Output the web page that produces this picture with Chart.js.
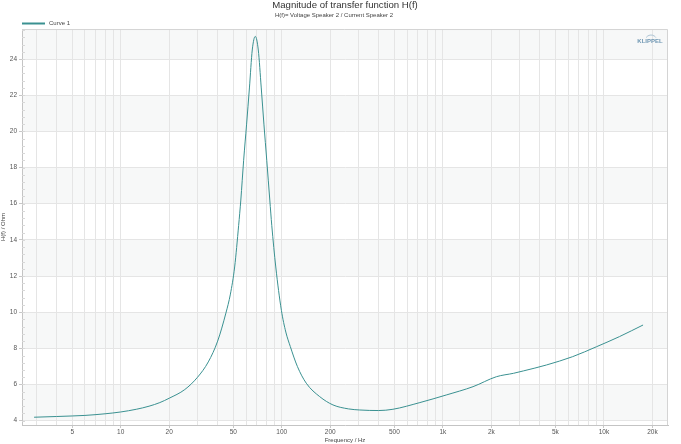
<!DOCTYPE html>
<html lang="en">
<head>
<meta charset="UTF-8">
<title>Magnitude of transfer function H(f)</title>
<script src="https://cdn.jsdelivr.net/npm/chart.js@4.4.1/dist/chart.umd.min.js"></script>
<style>
  html, body { margin: 0; padding: 0; background: #fff; }
  #wrap { width: 681px; height: 444px; position: relative; }
</style>
</head>
<body>
<div id="wrap"><canvas id="chart"></canvas></div>
<script>
// values
const freqHz = [2.9, 4, 5, 6, 8, 10, 12.5, 15, 17.5, 20, 25, 30, 35, 40, 45, 48, 51, 54, 55.7, 58,
                60.5, 63, 65.6, 68.5, 71.5, 74.6, 77.5, 80.7, 84.3, 86.7, 91.8, 99.5, 106, 113, 125,
                142, 172, 208, 260, 305, 400, 490, 720, 1050, 1540, 2150, 2750, 3160, 4400, 6400,
                9000, 12500, 17500];
const impedanceOhm = [4.19, 4.23, 4.26, 4.29, 4.38, 4.48, 4.63, 4.80, 5.00, 5.24, 5.72, 6.40, 7.25, 8.40, 9.95, 11.0, 12.5, 14.8, 16.2, 18.4,
                      20.4, 22.4, 24.5, 25.25, 24.5, 22.4, 20.4, 18.4, 16.2, 14.8, 12.5, 10.1, 8.9, 8.1, 7.0,
                      6.07, 5.33, 4.87, 4.65, 4.59, 4.56, 4.63, 5.00, 5.42, 5.88, 6.43, 6.62, 6.75, 7.08, 7.54,
                      8.09, 8.65, 9.29];

const xTickValues = [5, 10, 20, 50, 100, 200, 500, 1000, 2000, 5000, 10000, 20000];
const xTickLabels = ['5', '10', '20', '50', '100', '200', '500', '1k', '2k', '5k', '10k', '20k'];
const xGridValues = [3, 4, 5, 6, 7, 8, 9,
                     10, 20, 30, 40, 50, 60, 70, 80, 90,
                     100, 200, 300, 400, 500, 600, 700, 800, 900,
                     1000, 2000, 3000, 4000, 5000, 6000, 7000, 8000, 9000,
                     10000, 20000];
const yTickValues = [4, 6, 8, 10, 12, 14, 16, 18, 20, 22, 24];

const FONT = 'Liberation Sans, Arial, sans-serif';
const CURVE = '#3a9191';

const points = freqHz.map((f, i) => ({ x: f, y: impedanceOhm[i] }));

// grey bands + plot frame + legend + logo
const decor = {
  id: 'decor',
  beforeDraw(chart) {
    const { ctx, chartArea: a, scales: { y } } = chart;
    ctx.save();
    ctx.fillStyle = '#f7f8f8';
    for (let v = 4; v < y.max; v += 4) {
      const top = y.getPixelForValue(Math.min(v + 2, y.max));
      const bot = y.getPixelForValue(v);
      ctx.fillRect(a.left, top, a.right - a.left, bot - top);
    }
    ctx.restore();
  },
  afterDraw(chart) {
    const { ctx, chartArea: a, scales: { y } } = chart;
    ctx.save();
    // frame
    ctx.strokeStyle = '#d4d4d4';
    ctx.lineWidth = 1;
    ctx.beginPath();
    ctx.moveTo(a.left, a.top + 0.5);
    ctx.lineTo(a.right - 0.5, a.top + 0.5);
    ctx.lineTo(a.right - 0.5, a.bottom);
    ctx.stroke();
    // minor ticks on left axis
    ctx.strokeStyle = '#d8d8d8';
    ctx.beginPath();
    for (let v = 4; v < y.max; v += 0.4) {
      const py = Math.round(y.getPixelForValue(v)) + 0.5;
      ctx.moveTo(a.left, py);
      ctx.lineTo(a.left + 3, py);
    }
    ctx.stroke();
    // legend
    const ds = chart.data.datasets[0];
    ctx.strokeStyle = ds.borderColor;
    ctx.lineWidth = 2;
    ctx.beginPath();
    ctx.moveTo(22, 23.5);
    ctx.lineTo(45, 23.5);
    ctx.stroke();
    ctx.fillStyle = '#444';
    ctx.font = '6px ' + FONT;
    ctx.textBaseline = 'middle';
    ctx.fillText(ds.label, 49, 23.5);
    // logo
    ctx.fillStyle = '#6f97b3';
    ctx.font = 'bold 6px ' + FONT;
    ctx.textAlign = 'center';
    ctx.fillText('KLIPPEL', 650, 41.5);
    ctx.strokeStyle = '#9bb8cc';
    ctx.lineWidth = 0.8;
    ctx.beginPath();
    ctx.arc(651, 41, 6, Math.PI * 1.2, Math.PI * 1.8);
    ctx.stroke();
    ctx.restore();
  }
};

new Chart(document.getElementById('chart'), {
  type: 'line',
  data: {
    datasets: [{
      label: 'Curve 1',
      data: points,
      borderColor: CURVE,
      backgroundColor: CURVE,
      borderWidth: 1,
      pointRadius: 0,
      cubicInterpolationMode: 'monotone',
      fill: false
    }]
  },
  options: {
    responsive: true,
    maintainAspectRatio: false,
    animation: false,
    layout: { padding: { top: 0, right: 13, bottom: 0, left: 0 } },
    plugins: {
      legend: { display: false },
      tooltip: { enabled: false },
      title: {
        display: true,
        text: 'Magnitude of transfer function H(f)',
        color: '#333',
        font: { family: FONT, size: 9.6, weight: 'normal' },
        padding: { top: 0, bottom: 0 },
        fullSize: false
      },
      subtitle: {
        display: true,
        text: 'H(f)= Voltage Speaker 2 / Current Speaker 2',
        color: '#444',
        font: { family: FONT, size: 6 },
        padding: { top: 0, bottom: 10.3 }
      }
    },
    scales: {
      x: {
        type: 'logarithmic',
        min: 2.44,
        max: 25000,
        afterBuildTicks: s => { s.ticks = xGridValues.map(v => ({ value: v })); },
        afterFit: s => { s.height = 19; },
        ticks: {
          autoSkip: false,
          maxRotation: 0,
          padding: 0,
          color: '#555',
          font: { family: FONT, size: 6.5 },
          callback: v => {
            const i = xTickValues.indexOf(v);
            return i >= 0 ? xTickLabels[i] : '';
          }
        },
        grid: {
          color: '#e5e5e5',
          tickLength: 3,
          tickColor: c => xTickValues.includes(c.tick && c.tick.value) ? '#c8c8c8' : 'rgba(0,0,0,0)'
        },
        border: { color: '#c4c4c4' },
        title: {
          display: true,
          text: 'Frequency / Hz',
          color: '#444',
          font: { family: FONT, size: 6 },
          padding: 0
        }
      },
      y: {
        type: 'linear',
        min: 3.76,
        max: 25.66,
        afterBuildTicks: s => { s.ticks = yTickValues.map(v => ({ value: v })); },
        afterFit: s => { s.width = 22; },
        ticks: {
          padding: 2,
          color: '#555',
          font: { family: FONT, size: 6.5 }
        },
        grid: { color: '#e5e5e5', tickLength: 3, tickColor: '#c8c8c8' },
        border: { color: '#c4c4c4' },
        title: {
          display: true,
          text: 'H(f) / Ohm',
          color: '#444',
          font: { family: FONT, size: 6 },
          padding: 0
        }
      }
    }
  },
  plugins: [decor]
});
</script>
</body>
</html>
